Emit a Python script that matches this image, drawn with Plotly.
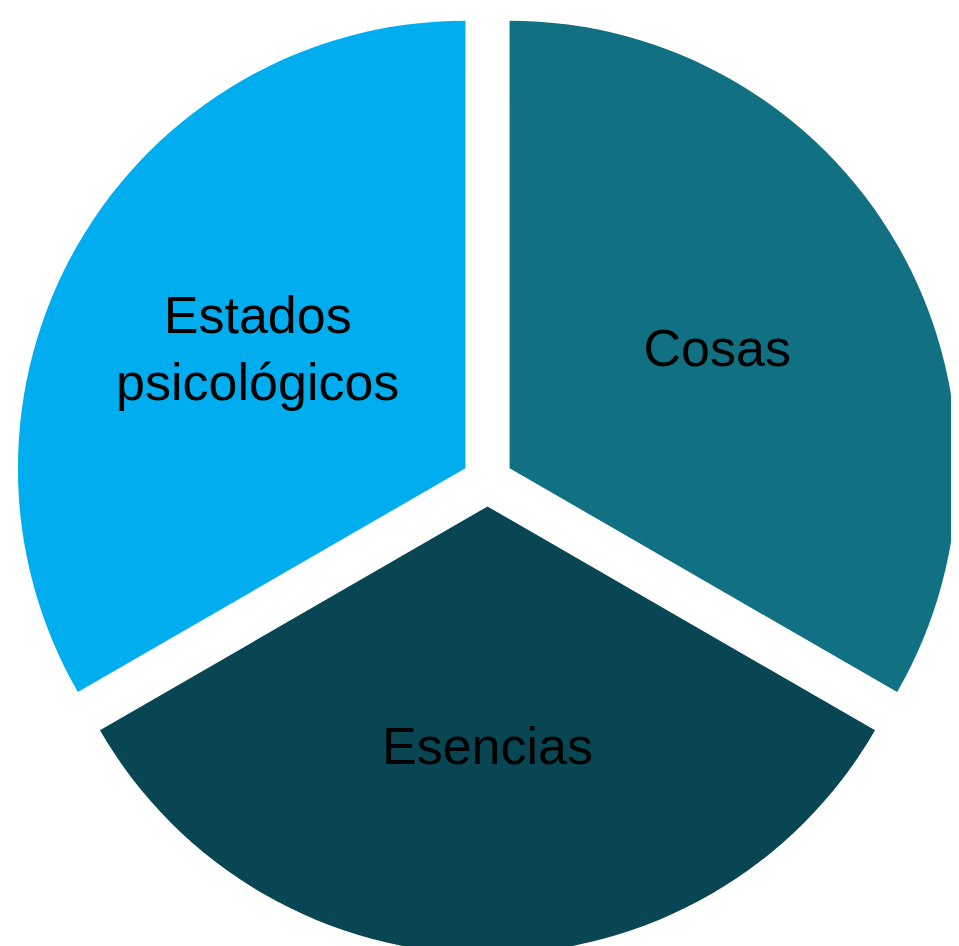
import plotly.graph_objects as go

labels = ["Cosas", "Esencias", "Estados<br>psicológicos"]
values = [1, 1, 1]
colors = ["#117082", "#074652", "#00AEEF"]
pulls = [0.057, 0.057, 0.057]

fig = go.Figure(go.Pie(
    labels=labels,
    values=values,
    sort=False,
    direction="clockwise",
    rotation=0,
    pull=pulls,
    marker=dict(colors=colors, line=dict(width=0)),
    textinfo="label",
    textposition="inside",
    insidetextorientation="horizontal",
    textfont=dict(family="Liberation Sans, Arial, sans-serif", size=52, color="black"),
    hoverinfo="label",
    showlegend=False,
))
fig.update_layout(
    width=959, height=946,
    margin=dict(l=0, r=0, t=0, b=0),
    paper_bgcolor="white",
    uniformtext=dict(minsize=52, mode="show"),
)
fig.write_html("out.html")
